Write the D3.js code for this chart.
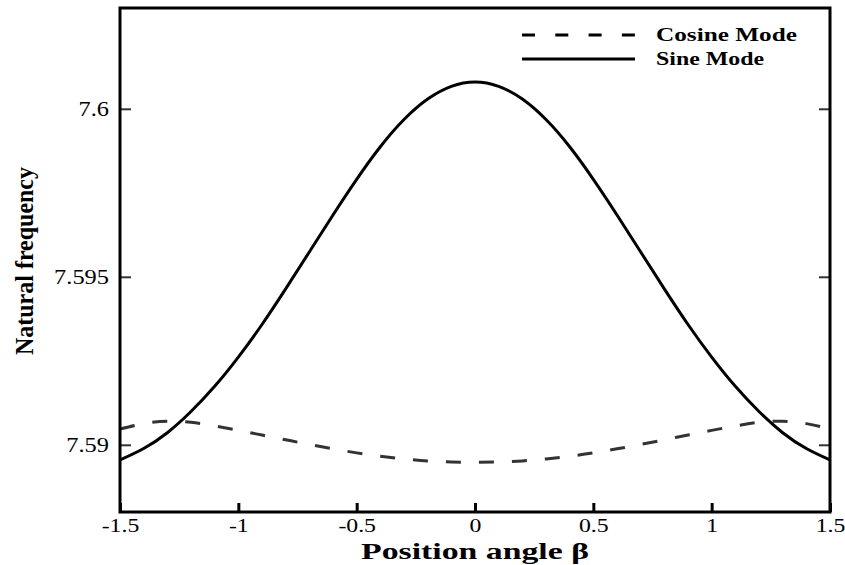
<!DOCTYPE html>
<html>
<head>
<meta charset="utf-8">
<script src="https://cdn.jsdelivr.net/npm/d3@7"></script>
<style>
  body { margin: 0; background: #fff; }
  svg { display: block; }
</style>
</head>
<body>
<div id="chart"></div>
<script>
// position angle beta (rad)
const beta = [-1.5, -1.4, -1.3, -1.2, -1.1, -1.0, -0.9, -0.8, -0.7, -0.6, -0.5, -0.4, -0.3, -0.2, -0.1, 0,
  0.1, 0.2, 0.3, 0.4, 0.5, 0.6, 0.7, 0.8, 0.9, 1.0, 1.1, 1.2, 1.3, 1.4, 1.5];
// sine mode natural frequency
const sineMode = [7.58955, 7.58989, 7.59036, 7.59099, 7.59174, 7.59261, 7.59358, 7.59464, 7.59574, 7.59684,
  7.59790, 7.59887, 7.59968, 7.60029, 7.60067, 7.60080,
  7.60067, 7.60029, 7.59968, 7.59887, 7.59790, 7.59684, 7.59574, 7.59464, 7.59358, 7.59261,
  7.59174, 7.59099, 7.59036, 7.58989, 7.58955];
// cosine mode natural frequency
const cosineMode = [7.59047, 7.59063, 7.59070, 7.59067, 7.59056, 7.59043, 7.59029, 7.59015, 7.59001, 7.58988,
  7.58976, 7.58966, 7.58958, 7.58952, 7.58949, 7.58948,
  7.58949, 7.58952, 7.58958, 7.58966, 7.58976, 7.58988, 7.59001, 7.59015, 7.59029, 7.59043,
  7.59056, 7.59067, 7.59070, 7.59063, 7.59047];
const xTicks = [-1.5, -1, -0.5, 0, 0.5, 1, 1.5];
const yTicks = [7.59, 7.595, 7.6];
const legendLabels = ['Cosine Mode', 'Sine Mode'];

const W = 845, H = 565;
const margin = { top: 8, right: 15, bottom: 53, left: 120 };
const width = W - margin.left - margin.right;
const height = H - margin.top - margin.bottom;
const serif = '"Liberation Serif", "DejaVu Serif", serif';
const fmt = function(d) { return String(d); }; // plain hyphen minus, like the original

const svg = d3.select('#chart').append('svg')
  .attr('width', W)
  .attr('height', H)
  .style('font-family', serif);
const g = svg.append('g').attr('transform', 'translate(' + margin.left + ',' + margin.top + ')');

const xScale = d3.scaleLinear().domain([-1.5, 1.5]).range([0, width]);
const yScale = d3.scaleLinear().domain([7.588, 7.603]).range([height, 0]);

const line = d3.line()
  .x(function(d, i) { return xScale(beta[i]); })
  .y(function(d) { return yScale(d); })
  .curve(d3.curveNatural);

// clip to plot area
svg.append('clipPath').attr('id', 'clip')
  .append('rect').attr('width', width).attr('height', height);

const plot = g.append('g').attr('clip-path', 'url(#clip)');

plot.append('path')
  .datum(cosineMode)
  .attr('fill', 'none')
  .attr('stroke', '#333')
  .attr('stroke-width', 3)
  .attr('stroke-dasharray', '15,18')
  .attr('d', line);

plot.append('path')
  .datum(sineMode)
  .attr('fill', 'none')
  .attr('stroke', '#000')
  .attr('stroke-width', 3)
  .attr('d', line);

// x axis: ticks inside, labels below
const xAxis = d3.axisBottom(xScale)
  .tickValues(xTicks)
  .tickSizeInner(-9)
  .tickSizeOuter(0)
  .tickPadding(7)
  .tickFormat(fmt);
const gx = g.append('g')
  .attr('transform', 'translate(0,' + height + ')')
  .call(xAxis);
gx.select('.domain').remove();
gx.selectAll('.tick line').attr('stroke', '#000').attr('stroke-width', 3);
gx.selectAll('.tick text')
  .style('font-family', serif)
  .attr('font-size', 19)
  .attr('fill', '#000')
  .attr('transform', 'scale(1.25,1)');

// left y axis
const yAxis = d3.axisLeft(yScale)
  .tickValues(yTicks)
  .tickSizeInner(-11)
  .tickSizeOuter(0)
  .tickFormat(fmt);
const gy = g.append('g').call(yAxis);
gy.select('.domain').remove();
gy.selectAll('.tick line').attr('stroke', '#333').attr('stroke-width', 2);
gy.selectAll('.tick text')
  .style('font-family', serif)
  .attr('font-size', 20)
  .attr('fill', '#000')
  .attr('x', 0)
  .attr('transform', 'translate(-11,0) scale(1.22,1)');

// right y axis ticks (no labels)
const gyr = g.append('g')
  .attr('transform', 'translate(' + width + ',0)')
  .call(d3.axisRight(yScale).tickValues(yTicks).tickSizeInner(-11).tickSizeOuter(0).tickFormat(''));
gyr.select('.domain').remove();
gyr.selectAll('.tick line').attr('stroke', '#333').attr('stroke-width', 2);

// frame
g.append('rect')
  .attr('width', width)
  .attr('height', height)
  .attr('fill', 'none')
  .attr('stroke', '#000')
  .attr('stroke-width', 3);

// axis titles
svg.append('text')
  .attr('x', margin.left + xScale(0))
  .attr('y', 559)
  .attr('text-anchor', 'middle')
  .attr('font-weight', 'bold')
  .attr('font-size', 24)
  .attr('textLength', 228)
  .attr('lengthAdjust', 'spacingAndGlyphs')
  .text('Position angle β');

svg.append('text')
  .attr('transform', 'translate(33,261) rotate(-90)')
  .attr('text-anchor', 'middle')
  .attr('font-weight', 'bold')
  .attr('font-size', 25)
  .attr('textLength', 188)
  .attr('lengthAdjust', 'spacingAndGlyphs')
  .text('Natural frequency');

// legend
const legend = svg.append('g').attr('transform', 'translate(522,35)');
const legendWidths = [141, 108];
legendLabels.forEach(function(label, i) {
  const row = legend.append('g').attr('transform', 'translate(0,' + (i * 24) + ')');
  row.append('line')
    .attr('x1', 0).attr('x2', 113)
    .attr('stroke', '#000')
    .attr('stroke-width', 3)
    .attr('stroke-dasharray', i === 0 ? '13,20.3' : null);
  row.append('text')
    .attr('x', 134)
    .attr('y', 6)
    .attr('font-weight', 'bold')
    .attr('font-size', 19)
    .attr('textLength', legendWidths[i])
    .attr('lengthAdjust', 'spacingAndGlyphs')
    .text(label);
});
</script>
</body>
</html>
